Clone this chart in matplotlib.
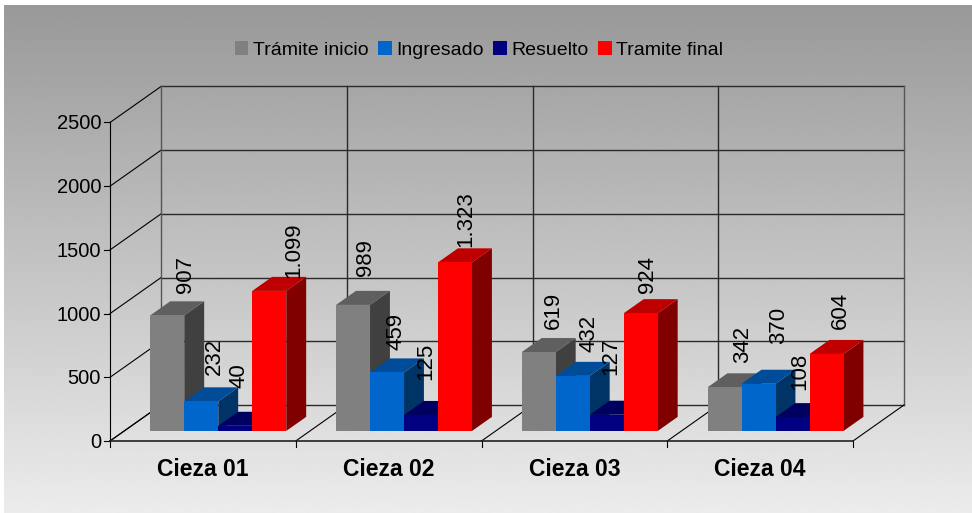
import numpy as np
import matplotlib
matplotlib.use('Agg')
import matplotlib.pyplot as plt
from matplotlib.patches import Patch, Polygon

plt.rcParams['font.family'] = ['Liberation Sans', 'DejaVu Sans']

# Datos
categories = ['Cieza 01', 'Cieza 02', 'Cieza 03', 'Cieza 04']
series_names = ['Trámite inicio', 'Ingresado', 'Resuelto', 'Tramite final']
tramite_inicio = [907, 989, 619, 342]
ingresado = [232, 459, 432, 370]
resuelto = [40, 125, 127, 108]
tramite_final = [1099, 1323, 924, 604]
y_ticks = [0, 500, 1000, 1500, 2000, 2500]
labels_inicio = ['907', '989', '619', '342']
labels_ingresado = ['232', '459', '432', '370']
labels_resuelto = ['40', '125', '127', '108']
labels_final = ['1.099', '1.323', '924', '604']

series = [tramite_inicio, ingresado, resuelto, tramite_final]
series_labels = [labels_inicio, labels_ingresado, labels_resuelto, labels_final]

# front, top, side
colors = [('#808080', '#5f5f5f', '#404040'),
          ('#0066cc', '#004c99', '#003366'),
          ('#000080', '#000060', '#000040'),
          ('#ff0000', '#bf0000', '#800000')]

# desplazamiento de cada etiqueta respecto a la barra (px)
label_dx = [[18, 12, 15, 18], [13, 9, 16, 20], [4, 5, 4, 7], [24, 11, 7, 14]]
label_dy = [[22, 29, 23, 24], [26, 22, 24, 40], [38, 35, 40, 27], [13, 15, 20, 25]]

# Escalas de la caja 3D, en pixeles de la figura
X0, X_STEP = 110, 185.75
Y0, Y_PER_UNIT = 441, 318.5 / 2500
DEPTH_X, DEPTH_Y = 51, -36
GAP_FRAC = 26 / 185.75
BAR_FRAC = 34 / 185.75
D_FRONT, D_BACK = 0.28, 0.67


def sx(cat, depth=0.0):
    return X0 + cat * X_STEP + depth * DEPTH_X


def sy(val, depth=0.0):
    return Y0 - val * Y_PER_UNIT + depth * DEPTH_Y


fig = plt.figure(figsize=(9.72, 5.13), dpi=100, facecolor='white')
ax = fig.add_axes([0, 0, 1, 1])
ax.set_xlim(0, 972)
ax.set_ylim(513, 0)
ax.axis('off')

# Fondo degradado
grad = np.linspace(0.60, 0.925, 256).reshape(-1, 1)
ax.imshow(grad, extent=[4, 972, 513, 5], cmap='gray', vmin=0, vmax=1, aspect='auto', zorder=0)
ax.set_xlim(0, 972)
ax.set_ylim(513, 0)

n_cat = len(categories)

# Paredes: lineas de la rejilla
wall = '#2a2a2a'
for v in y_ticks:
    ax.plot([sx(0), sx(0, 1)], [sy(v), sy(v, 1)], color='black', lw=0.8, zorder=1)
    ax.plot([sx(0, 1), sx(n_cat, 1)], [sy(v, 1), sy(v, 1)], color=wall, lw=1.0, zorder=1)
    ax.plot([sx(0) - 6, sx(0)], [sy(v), sy(v)], color='black', lw=0.8, zorder=1)
    ax.text(sx(0) - 9, sy(v) + 1.5, str(v), ha='right', va='center', fontsize=14.5, color='black',
            zorder=5)
for c in range(n_cat + 1):
    ax.plot([sx(c, 1), sx(c, 1)], [sy(0, 1), sy(y_ticks[-1], 1)],
            color='#555555' if c in (0, n_cat) else wall, lw=1.0, zorder=1)
    ax.plot([sx(c), sx(c, 1)], [sy(0), sy(0, 1)], color='black', lw=0.8, zorder=1)
    ax.plot([sx(c), sx(c)], [sy(0), sy(0) + 6], color='black', lw=0.8, zorder=1)
ax.plot([sx(0), sx(0)], [sy(0), sy(y_ticks[-1])], color='black', lw=0.8, zorder=1)
ax.plot([sx(0), sx(n_cat)], [sy(0), sy(0)], color='#222222', lw=1.2, zorder=1)

# Barras
z = 2.0
for c in range(n_cat):
    for s, vals in enumerate(series):
        v = vals[c]
        front_c, top_c, side_c = colors[s]
        x1 = c + GAP_FRAC + s * BAR_FRAC
        x2 = x1 + BAR_FRAC
        side = [(sx(x2, D_FRONT), sy(0, D_FRONT)), (sx(x2, D_BACK), sy(0, D_BACK)),
                (sx(x2, D_BACK), sy(v, D_BACK)), (sx(x2, D_FRONT), sy(v, D_FRONT))]
        top = [(sx(x1, D_FRONT), sy(v, D_FRONT)), (sx(x2, D_FRONT), sy(v, D_FRONT)),
               (sx(x2, D_BACK), sy(v, D_BACK)), (sx(x1, D_BACK), sy(v, D_BACK))]
        front = [(sx(x1, D_FRONT), sy(0, D_FRONT)), (sx(x2, D_FRONT), sy(0, D_FRONT)),
                 (sx(x2, D_FRONT), sy(v, D_FRONT)), (sx(x1, D_FRONT), sy(v, D_FRONT))]
        ax.add_patch(Polygon(side, facecolor=side_c, edgecolor='none', zorder=z))
        ax.add_patch(Polygon(top, facecolor=top_c, edgecolor='none', zorder=z))
        ax.add_patch(Polygon(front, facecolor=front_c, edgecolor='none', zorder=z + 0.001))
        z += 0.01

        ax.text(sx((x1 + x2) / 2, D_FRONT) + label_dx[s][c], sy(v, D_FRONT) - label_dy[s][c],
                series_labels[s][c], rotation=90, ha='center', va='bottom',
                fontsize=16, color='black', zorder=6)

# Etiquetas de categoria
for c, name in enumerate(categories):
    ax.text(sx(c + 0.5), 470, name, ha='center', va='center', fontsize=16.5,
            fontweight='bold', color='black', zorder=5)

# Leyenda
handles = [Patch(facecolor=colors[i][0], edgecolor='none', label=series_names[i]) for i in range(4)]
ax.legend(handles=handles, ncol=4, loc='center', bbox_to_anchor=(479 / 972, 1 - 50 / 513),
          frameon=False, fontsize=14, handlelength=0.68, handleheight=0.68,
          handletextpad=0.22, columnspacing=0.52, borderpad=0, borderaxespad=0)

fig.savefig('out.png', dpi=100)
